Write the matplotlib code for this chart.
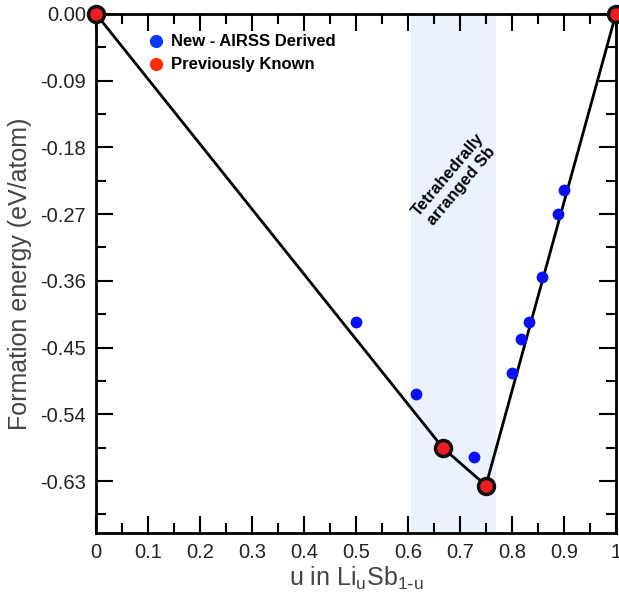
import matplotlib
matplotlib.use("Agg")
import matplotlib.pyplot as plt
from matplotlib.ticker import MultipleLocator

plt.rcParams['font.family'] = ['Liberation Sans', 'DejaVu Sans']

# Data
new_u = [0.5, 0.615, 0.727, 0.8, 0.818, 0.833, 0.857, 0.889, 0.9]
new_e = [-0.415, -0.513, -0.598, -0.484, -0.438, -0.415, -0.355, -0.270, -0.238]
known_u = [0.0, 0.667, 0.75, 1.0]
known_e = [0.0, -0.585, -0.636, 0.0]
region = [0.606, 0.769]
yticks = [0.00, -0.09, -0.18, -0.27, -0.36, -0.45, -0.54, -0.63]
xticks = [0, 0.1, 0.2, 0.3, 0.4, 0.5, 0.6, 0.7, 0.8, 0.9, 1]
xtick_labels = ['0', '0.1', '0.2', '0.3', '0.4', '0.5', '0.6', '0.7', '0.8', '0.9', '1']

fig = plt.figure(figsize=(6.19, 5.96), dpi=100)
ax = fig.add_axes([0.155, 0.1057, 0.84, 0.871])

ax.axvspan(region[0], region[1], color='#EAF2FC', zorder=0, lw=0)
ax.plot(known_u, known_e, color='black', lw=2, zorder=2)
ax.plot(new_u, new_e, 'o', color='#0A10F5', ms=8.5, mec='none', zorder=3)
ax.plot(known_u, known_e, 'o', color='#EE1C25', ms=11.5, mec='#111111', mew=2.5,
        zorder=4, clip_on=False)

ax.set_xlim(0, 1)
ax.set_ylim(-0.70, 0.0)
ax.set_xticks(xticks)
ax.set_xticklabels(xtick_labels)
ax.xaxis.set_minor_locator(MultipleLocator(0.05))
ax.set_yticks(yticks)
ax.set_yticklabels(['%.2f' % v for v in yticks])
ax.yaxis.set_minor_locator(MultipleLocator(0.045))

ax.tick_params(which='both', direction='in', top=True, right=True, width=1.5,
               labelsize=14.5, pad=7, labelcolor='#222222')
ax.tick_params(which='major', length=12)
ax.tick_params(which='minor', length=7)
for s in ax.spines.values():
    s.set_linewidth(2)

ax.set_xlabel(r'u in Li$_\mathregular{u}$Sb$_\mathregular{1\text{-}u}$', fontsize=18,
              color='#444444', labelpad=2)
ax.set_ylabel('Formation energy (eV/atom)', fontsize=18, color='#444444', labelpad=6)

# Legend
ax.plot([0.115], [-0.037], 'o', color='#0A3AF5', ms=9.5, mec='none')
ax.text(0.145, -0.037, 'New - AIRSS Derived', fontsize=12, fontweight='bold', va='center')
ax.plot([0.115], [-0.068], 'o', color='#FF2A00', ms=9.5, mec='none')
ax.text(0.145, -0.068, 'Previously Known', fontsize=12, fontweight='bold', va='center')

ax.text(0.69, -0.225, 'Tetrahedrally\narranged Sb', rotation=50, fontsize=12,
        fontweight='bold', ha='center', va='center', multialignment='center')

fig.savefig('out.png', dpi=100)
